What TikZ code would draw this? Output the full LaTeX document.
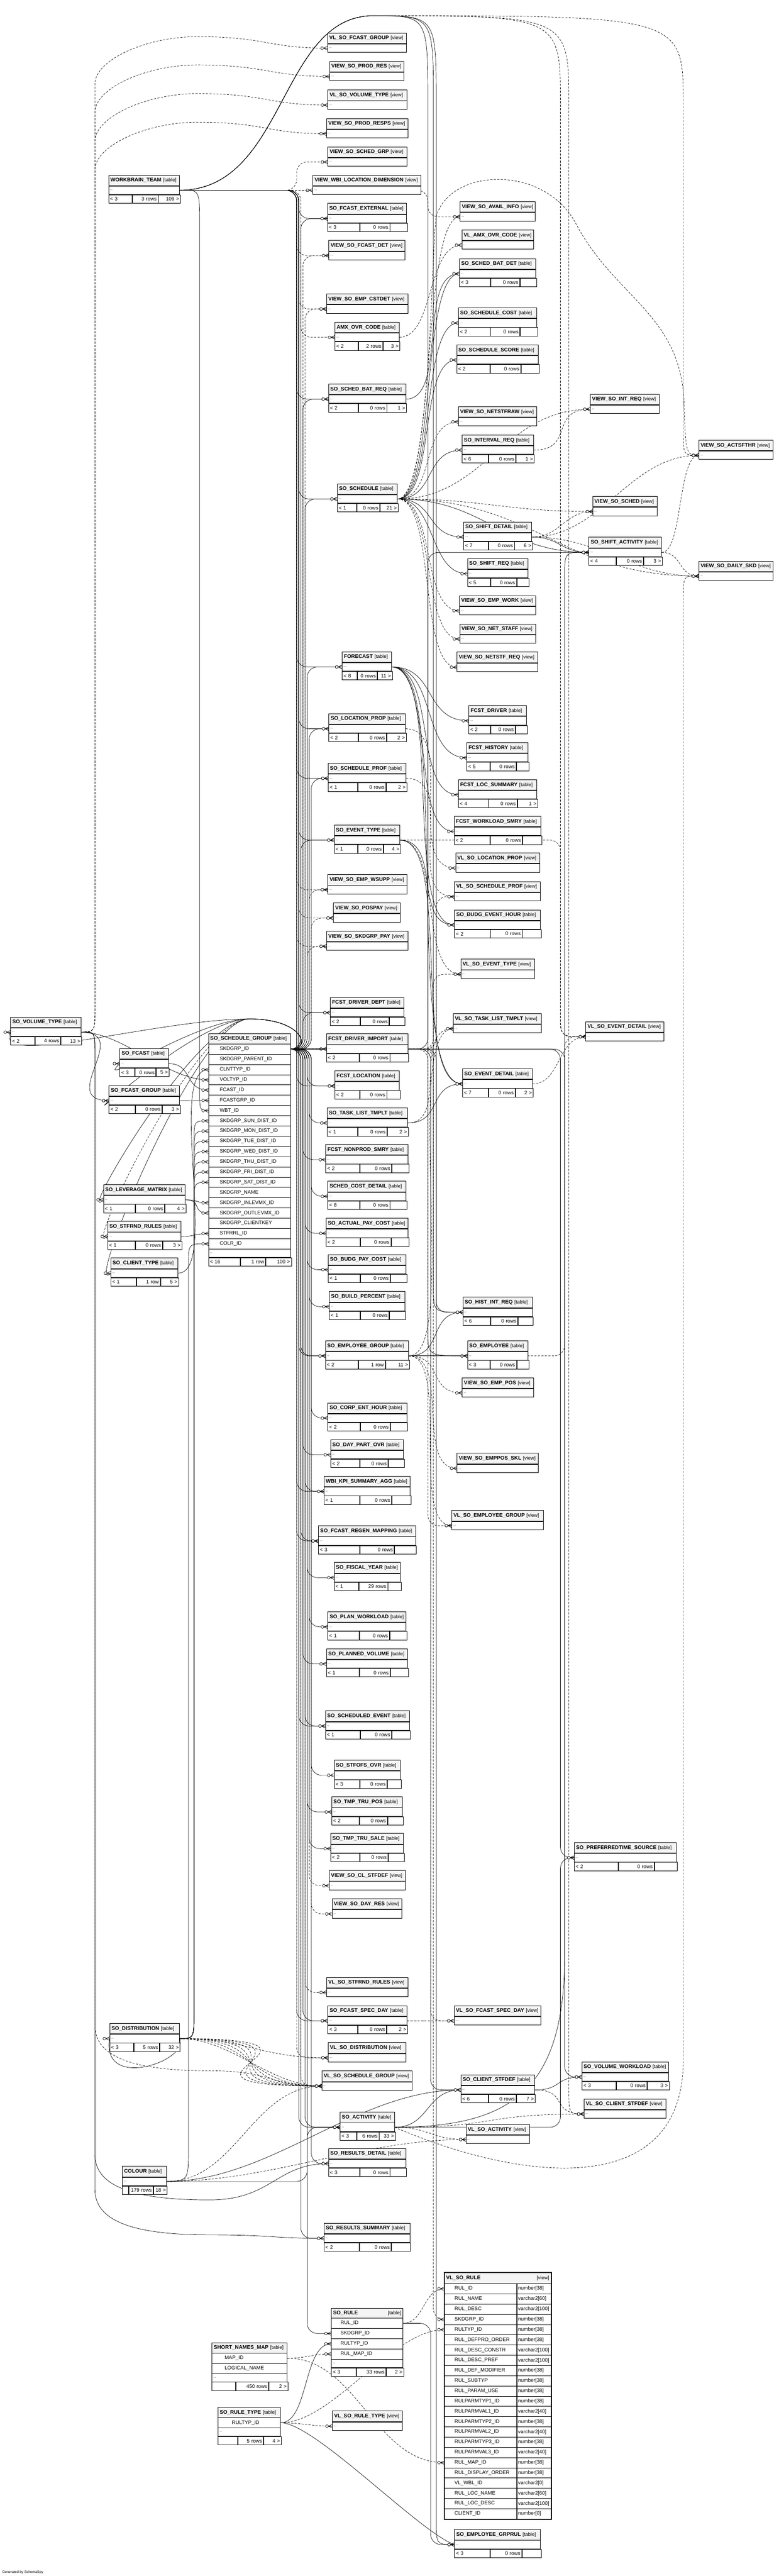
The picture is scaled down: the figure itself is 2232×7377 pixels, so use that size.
\documentclass[tikz,border=0pt]{standalone}
\usepackage{fontspec}
\setmainfont{Liberation Sans}
\usetikzlibrary{calc}

\definecolor{hdgray}{RGB}{244,244,244}
\pgfdeclarelayer{bg}
\pgfsetlayers{bg,main}

\tikzset{
	thd/.style={draw, fill=hdgray, line width=1.3pt, anchor=north west, minimum height=30pt, inner xsep=5pt, inner ysep=0pt, align=left, font=\fontsize{15}{17}\selectfont},
	tbd/.style={draw, fill=white, line width=1.3pt, anchor=north west, minimum height=24pt, inner xsep=4pt, inner ysep=0pt, align=left, font=\fontsize{9}{11}\selectfont},
	tft/.style={draw, fill=white, line width=1.3pt, anchor=north west, minimum height=24pt, inner xsep=4pt, inner ysep=0pt, font=\fontsize{14.5}{16}\selectfont},
	trow/.style={draw, fill=white, line width=1.3pt, anchor=north west, minimum height=29.35pt, inner xsep=6pt, inner ysep=0pt, align=left, font=\fontsize{14.5}{16}\selectfont},
	fk/.style={line width=1pt},
	imp/.style={dash pattern=on 6pt off 4pt},
	crow/.pic={
		\draw[line width=1pt, solid] (-11,0) -- (0,-5) (-11,0) -- (0,0) (-11,0) -- (0,5);
		\draw[line width=1pt, solid, fill=white] (-15,0) circle (4pt);
	}
}

\def\splitcw#1/#2\relax{\def\cwa{#1}\def\cwb{#2}}
\newcommand{\knd}[1]{{\fontsize{14}{16}\selectfont\mdseries #1}}
\newcommand{\mkfoot}[6]{\splitcw#6\relax
	\pgfmathsetmacro\fwa{\cwa-8}\pgfmathsetmacro\fwb{\cwb-8}\pgfmathsetmacro\fwc{#2-\cwa-\cwb-8}%
	\node[tft, text width=\fwa pt, align=left] (#1a) at (#1.south west) {#3};
	\node[tft, text width=\fwb pt, align=right] (#1b) at (#1a.north east) {#4};
	\node[tft, text width=\fwc pt, align=right] (#1c) at (#1b.north east) {#5};}
\newcommand{\mktable}[9]{\pgfmathsetmacro\hdw{#4-10}\pgfmathsetmacro\bdw{#4-8}%
	\node[thd, text width=\hdw pt] (#1h) at (#2,#3) {\mbox{\textbf{#5}~\knd{[table]}}};
	\node[tbd, text width=\bdw pt] (#1) at (#1h.south west) {...};
	\mkfoot{#1}{#4}{#6}{#7}{#8}{#9}}
\newcommand{\mkview}[5]{\pgfmathsetmacro\hdw{#4-10}\pgfmathsetmacro\bdw{#4-8}%
	\node[thd, text width=\hdw pt] (#1h) at (#2,#3) {\mbox{\textbf{#5}~\knd{[view]}}};
	\node[tbd, text width=\bdw pt] (#1) at (#1h.south west) {...};}

\newcommand{\crowat}[1]{\pic at (#1.west) {crow};}
\newcommand{\relbun}[4][]{\draw[fk, rounded corners=30pt, #1] (#2.east) -| (#3.west -| #4) -- (#3.west); \crowat{#3}}
\newcommand{\relfan}[4][]{\draw[fk, #1] (#2.east) .. controls +(#4,0) and +(-#4,0) .. (#3.west); \crowat{#3}}
\newcommand{\relloop}[2][]{\draw[fk, #1] (sgrp1.east) .. controls +(60,0) and (870,2918) .. (715,2918) .. controls (560,2918) and ($(#2.west)+(-80,80)$) .. (#2.west); \crowat{#2}}
\newcommand{\relover}[3][]{\draw[fk, #1] (wbt.east) .. controls (820,543) and (800,45) .. (1070,45) .. controls (#3 |- tq) and (#3 |- tq) .. (#3 |- tp) -- ($(#2.west -| #3)+(0,-70)$) .. controls (#2.west -| #3) .. (#2.west); \crowat{#2}}
\newcommand{\relup}[4][]{\draw[fk, #1] (vt.east) .. controls (272,2954) .. (272,2890) -- (272,#3) .. controls (272,#3-70) and (420,#4) .. (565,#4) .. controls (760,#4) and ($(#2.west)+(-170,0)$) .. (#2.west); \crowat{#2}}
\newcommand{\reldown}[3][]{\draw[fk, #1] (vt.east) .. controls (272,2954) .. (272,3020) -- (272,#3) .. controls (272,#3+90) and (380,#3+130) .. (600,#3+130) .. controls (780,#3+130) and ($(#2.west)+(-150,0)$) .. (#2.west); \crowat{#2}}
\newcommand{\reldist}[1]{\draw[fk] (dist.east) .. controls (dist.east -| bs) .. ($(dist.east -| bs)+(0,-80)$) -- ($(#1.west -| bs)+(0,60)$) .. controls (#1.west -| bs) .. (#1.west); \crowat{#1}}

\begin{document}
\begin{tikzpicture}[x=1pt, y=-1pt]
	\useasboundingbox (0,0) rectangle (2232,7377);

	\coordinate (xa) at (850,0);
	\coordinate (xb) at (856,0);
	\coordinate (xc) at (862,0);
	\coordinate (xd) at (868,0);
	\coordinate (xe) at (874,0);
	\coordinate (xf) at (880,0);
	\coordinate (xg) at (886,0);
	\coordinate (xh) at (892,0);
	\coordinate (ya) at (1226,0);
	\coordinate (yb) at (1234,0);
	\coordinate (yc) at (1242,0);
	\coordinate (yd) at (1250,0);
	\coordinate (za) at (1606,0);
	\coordinate (zb) at (1618,0);
	\coordinate (zc) at (1630,0);
	\coordinate (zd) at (1958,0);
	\coordinate (bs) at (556,0);
	\coordinate (tp) at (0,300);
	\coordinate (tq) at (0,45);

	\mktable{wbt}{311}{501}{203}{WORKBRAIN\_TEAM}{< 3}{3 rows}{109 >}{67/73}
	\mktable{vt}{30}{2912}{201}{SO\_VOLUME\_TYPE}{< 2}{4 rows}{13 >}{69/73}
	\mktable{fcst}{343}{3002}{139}{SO\_FCAST}{< 3}{0 rows}{5 >}{42/60}
	\mktable{fgrp}{312}{3108}{202}{SO\_FCAST\_GROUP}{< 2}{0 rows}{3 >}{74/76}
	\mktable{lm}{296}{3392}{234}{SO\_LEVERAGE\_MATRIX}{< 1}{0 rows}{4 >}{90/84}
	\mktable{srr}{308}{3497}{210}{SO\_STFRND\_RULES}{< 1}{0 rows}{3 >}{78/77}
	\mktable{ct}{317}{3602}{192}{SO\_CLIENT\_TYPE}{< 1}{1 row}{5 >}{73/67}
	\mktable{dist}{314}{5794}{199}{SO\_DISTRIBUTION}{< 3}{5 rows}{32 >}{68/73}
	\mktable{col}{350}{6203}{126}{COLOUR}{}{179 rows}{18 >}{17/70}

	\node[thd, text width=225pt] (sgrph) at (597,2959) {\mbox{\textbf{SO\_SCHEDULE\_GROUP}~\knd{[table]}}};
	\foreach \cn [count=\i] in {SKDGRP\_ID, SKDGRP\_PARENT\_ID, CLNTTYP\_ID, VOLTYP\_ID, FCAST\_ID, FCASTGRP\_ID, WBT\_ID, SKDGRP\_SUN\_DIST\_ID, SKDGRP\_MON\_DIST\_ID, SKDGRP\_TUE\_DIST\_ID, SKDGRP\_WED\_DIST\_ID, SKDGRP\_THU\_DIST\_ID, SKDGRP\_FRI\_DIST\_ID, SKDGRP\_SAT\_DIST\_ID, SKDGRP\_NAME, SKDGRP\_INLEVMX\_ID, SKDGRP\_OUTLEVMX\_ID, SKDGRP\_CLIENTKEY, STFRRL\_ID, COLR\_ID}
		\node[trow, text width=223pt] (sgrp\i) at (597,{2959.65+29.35*\i}) {\hspace*{26pt}\cn};
	\node[tbd, text width=227pt] (sgrp) at (597,3576) {...};
	\mkfoot{sgrp}{235}{< 16}{1 row}{100 >}{90/72}

	\node[thd, text width=205pt] (snmh) at (607,6708) {\mbox{\textbf{SHORT\_NAMES\_MAP}~\knd{[table]}}};
	\node[trow, minimum height=29pt, text width=203pt] (snm1) at (607,6738) {\hspace*{30pt}MAP\_ID};
	\node[trow, minimum height=29pt, text width=203pt] (snm2) at (607,6767) {\hspace*{30pt}LOGICAL\_NAME};
	\node[tbd, text width=207pt] (snm) at (607,6796) {...};
	\mkfoot{snm}{215}{}{450 rows}{2 >}{67/94}

	\node[thd, text width=169pt] (rth) at (624,6893) {\mbox{\textbf{SO\_RULE\_TYPE}~\knd{[table]}}};
	\node[trow, minimum height=29pt, text width=167pt] (rt1) at (624,6923) {\hspace*{34pt}RULTYP\_ID};
	\node[tbd, text width=171pt] (rt) at (624,6952) {...};
	\mkfoot{rt}{179}{}{5 rows}{4 >}{56/73}

	\mkview{vfg}{938}{94}{226}{VL\_SO\_FCAST\_GROUP}
	\mkview{vpr}{944}{175}{213}{VIEW\_SO\_PROD\_RES}
	\mkview{vvt}{939}{257}{226}{VL\_SO\_VOLUME\_TYPE}
	\mkview{vprs}{935}{339}{233}{VIEW\_SO\_PROD\_RESPS}
	\mkview{vsg}{939}{420}{226}{VIEW\_SO\_SCHED\_GRP}
	\mkview{vwld}{896}{501}{310}{VIEW\_WBI\_LOCATION\_DIMENSION}
	\mktable{fext}{938}{582}{226}{SO\_FCAST\_EXTERNAL}{< 3}{0 rows}{}{92/85}
	\mkview{vfd}{942}{688}{218}{VIEW\_SO\_FCAST\_DET}
	\mkview{vecd}{935}{841}{233}{VIEW\_SO\_EMP\_CSTDET}
	\mktable{amx}{959}{922}{184}{AMX\_OVR\_CODE}{< 2}{2 rows}{3 >}{66/70}
	\mktable{sbr}{941}{1099}{221}{SO\_SCHED\_BAT\_REQ}{< 2}{0 rows}{1 >}{85/80}
	\mktable{sch}{966}{1385}{172}{SO\_SCHEDULE}{< 1}{0 rows}{21 >}{55/65}
	\mktable{fc}{980}{1866}{141}{FORECAST}{< 8}{0 rows}{11 >}{42/57}
	\mktable{lp}{942}{2043}{219}{SO\_LOCATION\_PROP}{< 2}{0 rows}{2 >}{83/80}
	\mktable{sp}{940}{2185}{223}{SO\_SCHEDULE\_PROF}{< 1}{0 rows}{2 >}{84/80}
	\mktable{et}{957}{2362}{188}{SO\_EVENT\_TYPE}{< 1}{0 rows}{4 >}{67/72}
	\mkview{vews}{939}{2504}{226}{VIEW\_SO\_EMP\_WSUPP}
	\mkview{vpp}{955}{2585}{192}{VIEW\_SO\_POSPAY}
	\mkview{vsp}{935}{2666}{233}{VIEW\_SO\_SKDGRP\_PAY}
	\mktable{fdd}{946}{2856}{211}{FCST\_DRIVER\_DEPT}{< 2}{0 rows}{}{85/82}
	\mktable{fdi}{935}{2960}{233}{FCST\_DRIVER\_IMPORT}{< 2}{0 rows}{}{94/86}
	\mktable{fl}{959}{3066}{185}{FCST\_LOCATION}{< 2}{0 rows}{}{71/76}
	\mktable{tlt}{937}{3172}{230}{SO\_TASK\_LIST\_TMPLT}{< 1}{0 rows}{2 >}{87/83}
	\mktable{fns}{933}{3277}{236}{FCST\_NONPROD\_SMRY}{< 2}{0 rows}{}{97/90}
	\mktable{scd}{939}{3382}{224}{SCHED\_COST\_DETAIL}{< 8}{0 rows}{}{91/85}
	\mktable{apc}{934}{3488}{235}{SO\_ACTUAL\_PAY\_COST}{< 2}{0 rows}{}{97/87}
	\mktable{bgpc}{940}{3592}{223}{SO\_BUDG\_PAY\_COST}{< 1}{0 rows}{}{91/85}
	\mktable{bpct}{943}{3698}{216}{SO\_BUILD\_PERCENT}{< 1}{0 rows}{}{88/82}
	\mktable{eg}{932}{3839}{238}{SO\_EMPLOYEE\_GROUP}{< 2}{1 row}{11 >}{93/77}
	\mktable{ceh}{939}{4017}{226}{SO\_CORP\_ENT\_HOUR}{< 2}{0 rows}{}{92/85}
	\mktable{dpo}{947}{4122}{208}{SO\_DAY\_PART\_OVR}{< 2}{0 rows}{}{83/80}
	\mktable{kpi}{928}{4227}{247}{WBI\_KPI\_SUMMARY\_AGG}{< 1}{0 rows}{}{102/90}
	\mktable{frm}{912}{4369}{278}{SO\_FCAST\_REGEN\_MAPPING}{< 3}{0 rows}{}{118/98}
	\mktable{fy}{957}{4474}{189}{SO\_FISCAL\_YEAR}{< 1}{29 rows}{}{70/82}
	\mktable{pw}{939}{4615}{224}{SO\_PLAN\_WORKLOAD}{< 1}{0 rows}{}{90/85}
	\mktable{pv}{935}{4721}{232}{SO\_PLANNED\_VOLUME}{< 1}{0 rows}{}{94/87}
	\mktable{se}{932}{4899}{241}{SO\_SCHEDULED\_EVENT}{< 1}{0 rows}{}{99/89}
	\mktable{sfo}{957}{5040}{189}{SO\_STFOFS\_OVR}{< 3}{0 rows}{}{73/77}
	\mktable{ttp}{950}{5145}{202}{SO\_TMP\_TRU\_POS}{< 2}{0 rows}{}{79/79}
	\mktable{tts}{947}{5250}{208}{SO\_TMP\_TRU\_SALE}{< 2}{0 rows}{}{83/80}
	\mkview{vcs}{943}{5356}{218}{VIEW\_SO\_CL\_STFDEF}
	\mkview{vdr}{951}{5437}{200}{VIEW\_SO\_DAY\_RES}
	\mkview{vsr}{935}{5662}{233}{VL\_SO\_STFRND\_RULES}
	\mktable{fsd}{939}{5743}{226}{SO\_FCAST\_SPEC\_DAY}{< 3}{0 rows}{2 >}{85/81}
	\mkview{vdist}{940}{5849}{222}{VL\_SO\_DISTRIBUTION}
	\mkview{vsgrp}{922}{5930}{259}{VL\_SO\_SCHEDULE\_GROUP}
	\mktable{act}{974}{6048}{156}{SO\_ACTIVITY}{< 3}{6 rows}{33 >}{47/63}
	\mktable{rd}{941}{6152}{221}{SO\_RESULTS\_DETAIL}{< 3}{0 rows}{}{89/85}
	\mktable{rs}{928}{6366}{246}{SO\_RESULTS\_SUMMARY}{< 2}{0 rows}{}{101/90}
	\mkview{vrt}{952}{6904}{201}{VL\_SO\_RULE\_TYPE}

	\node[thd, minimum height=29pt, text width=195pt] (ruleh) at (949,6609) {\textbf{SO\_RULE}\hfill\knd{[table]}};
	\foreach \cn [count=\i] in {RUL\_ID, SKDGRP\_ID, RULTYP\_ID, RUL\_MAP\_ID}
		\node[trow, minimum height=29.3pt, text width=193pt] (rl\i) at (949,{6608.7+29.3*\i}) {\hspace*{20pt}\cn};
	\node[tbd, text width=197pt] (rule) at (949,6755.2) {...};
	\mkfoot{rule}{205}{< 3}{33 rows}{2 >}{71/84}

	\mkview{vai}{1318}{577}{215}{VIEW\_SO\_AVAIL\_INFO}
	\mkview{vamx}{1323}{658}{206}{VL\_AMX\_OVR\_CODE}
	\mktable{sbd}{1316}{740}{219}{SO\_SCHED\_BAT\_DET}{< 3}{0 rows}{}{89/82}
	\mktable{scost}{1313}{881}{225}{SO\_SCHEDULE\_COST}{< 2}{0 rows}{}{91/84}
	\mktable{sscore}{1308}{987}{234}{SO\_SCHEDULE\_SCORE}{< 2}{0 rows}{}{95/87}
	\mkview{vnsr}{1313}{1164}{224}{VIEW\_SO\_NETSTFRAW}
	\mktable{ir}{1324}{1245}{204}{SO\_INTERVAL\_REQ}{< 6}{0 rows}{1 >}{75/77}
	\mktable{sd}{1328}{1494}{195}{SO\_SHIFT\_DETAIL}{< 7}{0 rows}{6 >}{71/73}
	\mktable{sr}{1339}{1599}{174}{SO\_SHIFT\_REQ}{< 5}{0 rows}{}{66/73}
	\mkview{vew}{1316}{1705}{218}{VIEW\_SO\_EMP\_WORK}
	\mkview{vns}{1317}{1786}{217}{VIEW\_SO\_NET\_STAFF}
	\mkview{vnsq}{1309}{1867}{231}{VIEW\_SO\_NETSTF\_REQ}
	\mktable{fd}{1343}{2020}{165}{FCST\_DRIVER}{< 2}{0 rows}{}{62/69}
	\mktable{fh}{1337}{2126}{175}{FCST\_HISTORY}{< 5}{0 rows}{}{66/74}
	\mktable{fls}{1313}{2232}{225}{FCST\_LOC\_SUMMARY}{< 4}{0 rows}{1 >}{85/82}
	\mktable{fws}{1301}{2337}{248}{FCST\_WORKLOAD\_SMRY}{< 2}{0 rows}{}{102/92}
	\mkview{vlp}{1305}{2442}{241}{VL\_SO\_LOCATION\_PROP}
	\mkview{vspf}{1302}{2524}{246}{VL\_SO\_SCHEDULE\_PROF}
	\mktable{beh}{1302}{2605}{246}{SO\_BUDG\_EVENT\_HOUR}{< 2}{0 rows}{}{102/90}
	\mkview{vet}{1320}{2746}{211}{VL\_SO\_EVENT\_TYPE}
	\mkview{vtlt}{1298}{2902}{253}{VL\_SO\_TASK\_LIST\_TMPLT}
	\mktable{ed}{1325}{3060}{200}{SO\_EVENT\_DETAIL}{< 7}{0 rows}{2 >}{74/75}
	\mktable{hir}{1326}{3714}{199}{SO\_HIST\_INT\_REQ}{< 6}{0 rows}{}{79/77}
	\mktable{emp}{1339}{3839}{173}{SO\_EMPLOYEE}{< 3}{0 rows}{}{64/75}
	\mkview{vep}{1324}{3945}{204}{VIEW\_SO\_EMP\_POS}
	\mkview{veps}{1309}{4161}{233}{VIEW\_SO\_EMPPOS\_SKL}
	\mkview{veg}{1294}{4325}{262}{VL\_SO\_EMPLOYEE\_GROUP}
	\mkview{vfsd}{1301}{5743}{248}{VL\_SO\_FCAST\_SPEC\_DAY}
	\mktable{cstf}{1320}{5941}{211}{SO\_CLIENT\_STFDEF}{< 6}{0 rows}{7 >}{79/78}
	\mkview{vact}{1335}{6083}{181}{VL\_SO\_ACTIVITY}
	\mktable{egr}{1302}{7243}{246}{SO\_EMPLOYEE\_GRPRUL}{< 3}{0 rows}{}{101/90}

	\node[thd, minimum height=31pt, text width=295pt] (vruleh) at (1273,6508) {\textbf{VL\_SO\_RULE}\hfill\knd{[view]}};
	\foreach \cn/\ty [count=\i] in {RUL\_ID/number[38], RUL\_NAME/varchar2[60], RUL\_DESC/varchar2[100], SKDGRP\_ID/number[38], RULTYP\_ID/number[38], RUL\_DEFPRO\_ORDER/number[38], RUL\_DESC\_CONSTR/varchar2[100], RUL\_DESC\_PREF/varchar2[100], RUL\_DEF\_MODIFIER/number[38], RUL\_SUBTYP/number[38], RUL\_PARAM\_USE/number[38], RULPARMTYP1\_ID/number[38], RULPARMVAL1\_ID/varchar2[40], RULPARMTYP2\_ID/number[38], RULPARMVAL2\_ID/varchar2[40], RULPARMTYP3\_ID/number[38], RULPARMVAL3\_ID/varchar2[40], RUL\_MAP\_ID/number[38], RUL\_DISPLAY\_ORDER/number[38], VL\_WBL\_ID/varchar2[0], RUL\_LOC\_NAME/varchar2[60], RUL\_LOC\_DESC/varchar2[100], CLIENT\_ID/number[0]}{
		\node[trow, minimum height=29.3pt, text width=195pt] (vr\i) at (1273,{6539+29.3*(\i-1)}) {\hspace*{23pt}\cn};
		\node[trow, minimum height=29.3pt, inner xsep=3pt, text width=92pt] (vrty\i) at (vr\i.north east) {\ty};
	}
	\draw[line width=3pt] (vruleh.north west) rectangle (vrty23.south east);

	\mkview{vir}{1691}{1128}{197}{VIEW\_SO\_INT\_REQ}
	\mkview{vsched}{1698}{1421}{184}{VIEW\_SO\_SCHED}
	\mktable{sa}{1687}{1538}{208}{SO\_SHIFT\_ACTIVITY}{< 4}{0 rows}{3 >}{77/78}
	\mkview{ved}{1678}{2925}{224}{VL\_SO\_EVENT\_DETAIL}
	\mktable{pts}{1645}{5276}{292}{SO\_PREFERREDTIME\_SOURCE}{< 2}{0 rows}{}{126/101}
	\mktable{vwl}{1667}{5904}{248}{SO\_VOLUME\_WORKLOAD}{< 3}{0 rows}{3 >}{97/88}
	\mkview{vcsd}{1673}{6010}{234}{VL\_SO\_CLIENT\_STFDEF}
	\mkview{vast}{2002}{1260}{212}{VIEW\_SO\_ACTSFTHR}
	\mkview{vdsk}{2002}{1606}{213}{VIEW\_SO\_DAILY\_SKD}

	\node[anchor=south west, font=\fontsize{10}{12}\selectfont] (gen) at (3,7374) {Generated by SchemaSpy};

	\begin{pgfonlayer}{bg}
	\fill[white] (0,0) rectangle (2232,7377);

	\relbun{sgrp1}{fext}{xc}
	\relbun{sgrp1}{sbr}{xd}
	\relbun{sgrp1}{sch}{xe}
	\relbun{sgrp1}{fc}{xf}
	\relbun{sgrp1}{lp}{xg}
	\relbun{sgrp1}{sp}{xh}
	\relbun{sgrp1}{et}{xc}
	\relbun{sgrp1}{fdd}{xd}
	\relfan{sgrp1}{fdi}{40}
	\relbun{sgrp1}{fl}{xf}
	\relbun{sgrp1}{tlt}{xg}
	\relbun{sgrp1}{fns}{xd}
	\relbun{sgrp1}{scd}{xh}
	\relbun{sgrp1}{apc}{xe}
	\relbun{sgrp1}{bgpc}{xf}
	\relbun{sgrp1}{bpct}{xg}
	\relbun{sgrp1}{eg}{xc}
	\relbun{sgrp1}{ceh}{xh}
	\relbun{sgrp1}{dpo}{xd}
	\relbun{sgrp1}{kpi}{xe}
	\relbun{sgrp1}{frm}{xc}
	\relbun{sgrp1}{fy}{xf}
	\relbun{sgrp1}{pw}{xg}
	\relbun{sgrp1}{pv}{xd}
	\relbun{sgrp1}{se}{xe}
	\relbun{sgrp1}{sfo}{xh}
	\relbun{sgrp1}{ttp}{xf}
	\relbun{sgrp1}{tts}{xg}
	\relbun{sgrp1}{fsd}{xd}
	\relbun{sgrp1}{act}{xe}
	\relbun{sgrp1}{rd}{xh}
	\relbun{sgrp1}{rs}{xc}
	\relbun{sgrp1}{rl2}{xf}
	\relbun[imp]{sgrp1}{vfd}{xd}
	\relbun[imp]{sgrp1}{vecd}{xe}
	\relbun[imp]{sgrp1}{vews}{xg}
	\relbun[imp]{sgrp1}{vpp}{xh}
	\relbun[imp]{sgrp1}{vsp}{xf}
	\relbun[imp]{sgrp1}{vcs}{xg}
	\relbun[imp]{sgrp1}{vdr}{xh}
	\relbun[imp]{sgrp1}{vsr}{xe}
	\relbun[imp]{sgrp1}{vsgrp}{xc}
	\relbun{sgrp1}{hir}{yd}
	\relbun{sgrp1}{sa}{ya}
	\relbun{sgrp1}{cstf}{yb}
	\relbun[imp]{sgrp1}{vet}{yc}
	\relbun[imp]{sgrp1}{vspf}{yd}
	\relbun[imp]{sgrp1}{veg}{ya}
	\relbun[imp]{sgrp1}{vfsd}{yb}
	\relbun[imp]{sgrp1}{vr4}{yc}
	\relbun{sgrp1}{vwl}{zb}
	\relbun{sgrp1}{pts}{za}

	\draw[fk, imp] (wbt.east) -- (vwld.west); \crowat{vwld}
	\relbun[imp]{wbt}{vsg}{xa}
	\relbun{wbt}{fext}{xb}
	\relbun[imp]{wbt}{vfd}{xa}
	\relbun[imp]{wbt}{vecd}{xb}
	\relbun[imp]{wbt}{amx}{xc}
	\relbun{wbt}{sbr}{xa}
	\relbun{wbt}{sch}{xb}
	\relbun{wbt}{fc}{xa}
	\relbun{wbt}{lp}{xb}
	\relbun{wbt}{sp}{xa}
	\relbun{wbt}{et}{xb}
	\relbun[imp]{wbt}{vews}{xa}
	\relbun[imp]{wbt}{vpp}{xb}
	\relbun[imp]{wbt}{vsp}{xa}
	\relbun{wbt}{fdd}{xb}
	\relbun{wbt}{fl}{xa}
	\relbun{wbt}{eg}{xb}
	\relbun{wbt}{kpi}{xa}
	\relbun{wbt}{frm}{xa}
	\relbun{wbt}{se}{xb}
	\relbun{wbt}{fsd}{xa}
	\relbun{wbt}{act}{xb}
	\relbun[imp]{wbt}{vdist}{xa}
	\relbun[imp]{wbt}{vai}{ya}
	\relover{emp}{ya}
	\relover{hir}{yc}
	\relover{egr}{yd}
	\relover[imp]{ved}{za}
	\relover[imp]{vcsd}{zc}
	\relover[imp]{vast}{zd}
	\draw[fk] (wbt.east) .. controls (572,543) .. (572,640) -- (572,3120) .. controls (572,3180) .. (sgrp7.west); \crowat{sgrp7}

	\relup[imp]{vfg}{241}{105}
	\relup[imp]{vpr}{322}{186}
	\relup[imp]{vvt}{405}{268}
	\relup[imp]{vprs}{487}{350}
	\reldown[imp]{vsgrp}{5800}
	\reldown{rd}{6170}
	\reldown{rs}{6270}
	\relfan{vt}{fgrp}{150}
	\relfan{vt}{sgrp4}{120}
	\draw[fk] (sgrp1.east) .. controls +(60,0) and (870,2918) .. (715,2918) .. controls (450,2918) and (-20,3060) .. (vt.west); \crowat{vt}

	\relfan{fcst}{sgrp5}{70}
	\relfan{fgrp}{sgrp6}{40}
	\relfan{ct}{sgrp3}{120}
	\relfan{lm}{sgrp16}{40}
	\relfan{lm}{sgrp17}{50}
	\relfan{srr}{sgrp19}{40}
	\reldist{sgrp8}
	\reldist{sgrp9}
	\reldist{sgrp10}
	\reldist{sgrp11}
	\reldist{sgrp12}
	\reldist{sgrp13}
	\reldist{sgrp14}
	\draw[fk] (col.east) .. controls (540,6245) .. (540,6150) -- (540,3620) .. controls (540,3561) .. (sgrp20.west); \crowat{sgrp20}
	\relloop{fcst}
	\relloop{fgrp}
	\relloop{lm}
	\relloop[imp]{srr}
	\relloop{ct}

	\relfan{sch}{sbd}{110}
	\relfan{sch}{scost}{110}
	\relfan{sch}{sscore}{110}
	\relfan{sch}{ir}{110}
	\relfan{sch}{sd}{110}
	\relfan{sch}{sr}{110}
	\relfan{sch}{sa}{250}
	\relfan[imp]{sch}{vai}{110}
	\relfan[imp]{sch}{vnsr}{110}
	\relfan[imp]{sch}{vsched}{250}
	\relfan[imp]{sch}{vew}{110}
	\relfan[imp]{sch}{vns}{110}
	\relfan[imp]{sch}{vnsq}{110}
	\relfan[imp]{sch}{vir}{250}
	\relfan[imp]{sch}{vdsk}{400}
	\draw[fk, imp] (sch.east) .. controls (1236,1427) and (1236,700) .. (1250,620) .. controls (1290,480) and (1560,470) .. (1650,640) .. controls (1760,850) and (1950,900) .. (1960,1150) .. controls (1965,1302) .. (vast.west); \crowat{vast}

	\relfan[imp]{amx}{vamx}{100}
	\relfan{sbr}{sbd}{120}
	\relfan[imp]{ir}{vir}{120}
	\relfan{sd}{sa}{80}
	\relfan[imp]{sd}{vsched}{80}
	\relfan[imp]{sd}{vast}{200}
	\relfan[imp]{sd}{vdsk}{200}
	\relfan[imp]{sa}{vast}{60}
	\relfan[imp]{sa}{vdsk}{60}
	\relfan{fc}{fd}{130}
	\relfan{fc}{fh}{130}
	\relfan{fc}{fls}{130}
	\relfan{fc}{fws}{130}
	\relfan{fc}{beh}{150}
	\relfan{fc}{ed}{180}
	\relfan[imp]{lp}{vlp}{150}
	\relfan[imp]{sp}{vspf}{150}
	\relfan{et}{beh}{120}
	\relfan{et}{ed}{150}
	\relfan[imp]{et}{vet}{120}
	\relbun[imp]{et}{ved}{za}
	\relfan[imp]{ed}{ved}{80}
	\relfan[imp]{tlt}{vtlt}{120}
	\relfan{tlt}{ed}{100}
	\draw[fk] (eg.east) -- (emp.west); \crowat{emp}
	\relfan{eg}{hir}{100}
	\relfan[imp]{eg}{vep}{100}
	\relfan[imp]{eg}{veps}{120}
	\relfan[imp]{eg}{veg}{120}
	\relfan[imp]{eg}{vtlt}{150}
	\relbun[imp]{eg}{ved}{zb}
	\relfan[imp]{fsd}{vfsd}{60}
	\relfan{cstf}{vwl}{80}
	\relfan[imp]{cstf}{vcsd}{100}
	\relfan{act}{cstf}{100}
	\relfan[imp]{act}{vact}{100}
	\relfan[imp]{act}{vcsd}{300}
	\relbun{act}{pts}{za}
	\draw[fk] (act.east) .. controls (1450,6090) and (1618,6000) .. (1618,5600) -- (1618,1650) .. controls (1618,1580) .. (sa.west); \crowat{sa}
	\draw[fk, imp] (act.east) .. controls (1500,6250) and (1958,6300) .. (1958,5900) -- (1958,1720) .. controls (1958,1648) .. (vdsk.west); \crowat{vdsk}

	\relfan[imp]{dist}{vdist}{200}
	\relfan[imp]{dist}{vsgrp}{150}
	\relfan[imp]{dist}{vsgrp}{220}
	\relfan[imp]{dist}{vsgrp}{290}
	\relfan[imp]{dist}{vsgrp}{360}
	\relfan[imp]{dist}{vsgrp}{430}
	\relfan[imp]{dist}{vsgrp}{500}
	\relfan[imp]{dist}{vsgrp}{570}
	\draw[fk] (dist.east) .. controls (545,5900) and (290,5990) .. (dist.west); \crowat{dist}
	\relbun{col}{act}{xf}
	\relfan[imp]{col}{vsgrp}{200}
	\relfan{col}{cstf}{300}
	\relfan[imp]{col}{vact}{300}

	\relbun{rl1}{egr}{yb}
	\relfan[imp]{rl1}{vr1}{60}
	\relfan{rt1}{rl3}{80}
	\relfan[imp]{rt1}{vrt}{60}
	\relfan[imp]{rt1}{vr5}{150}
	\draw[fk] (rt1.east) .. controls (900,6937) and (1200,7250) .. (egr.west); \crowat{egr}
	\relfan[imp]{snm1}{rl4}{60}
	\relfan[imp]{snm1}{vr18}{200}
	\end{pgfonlayer}
\end{tikzpicture}
\end{document}
